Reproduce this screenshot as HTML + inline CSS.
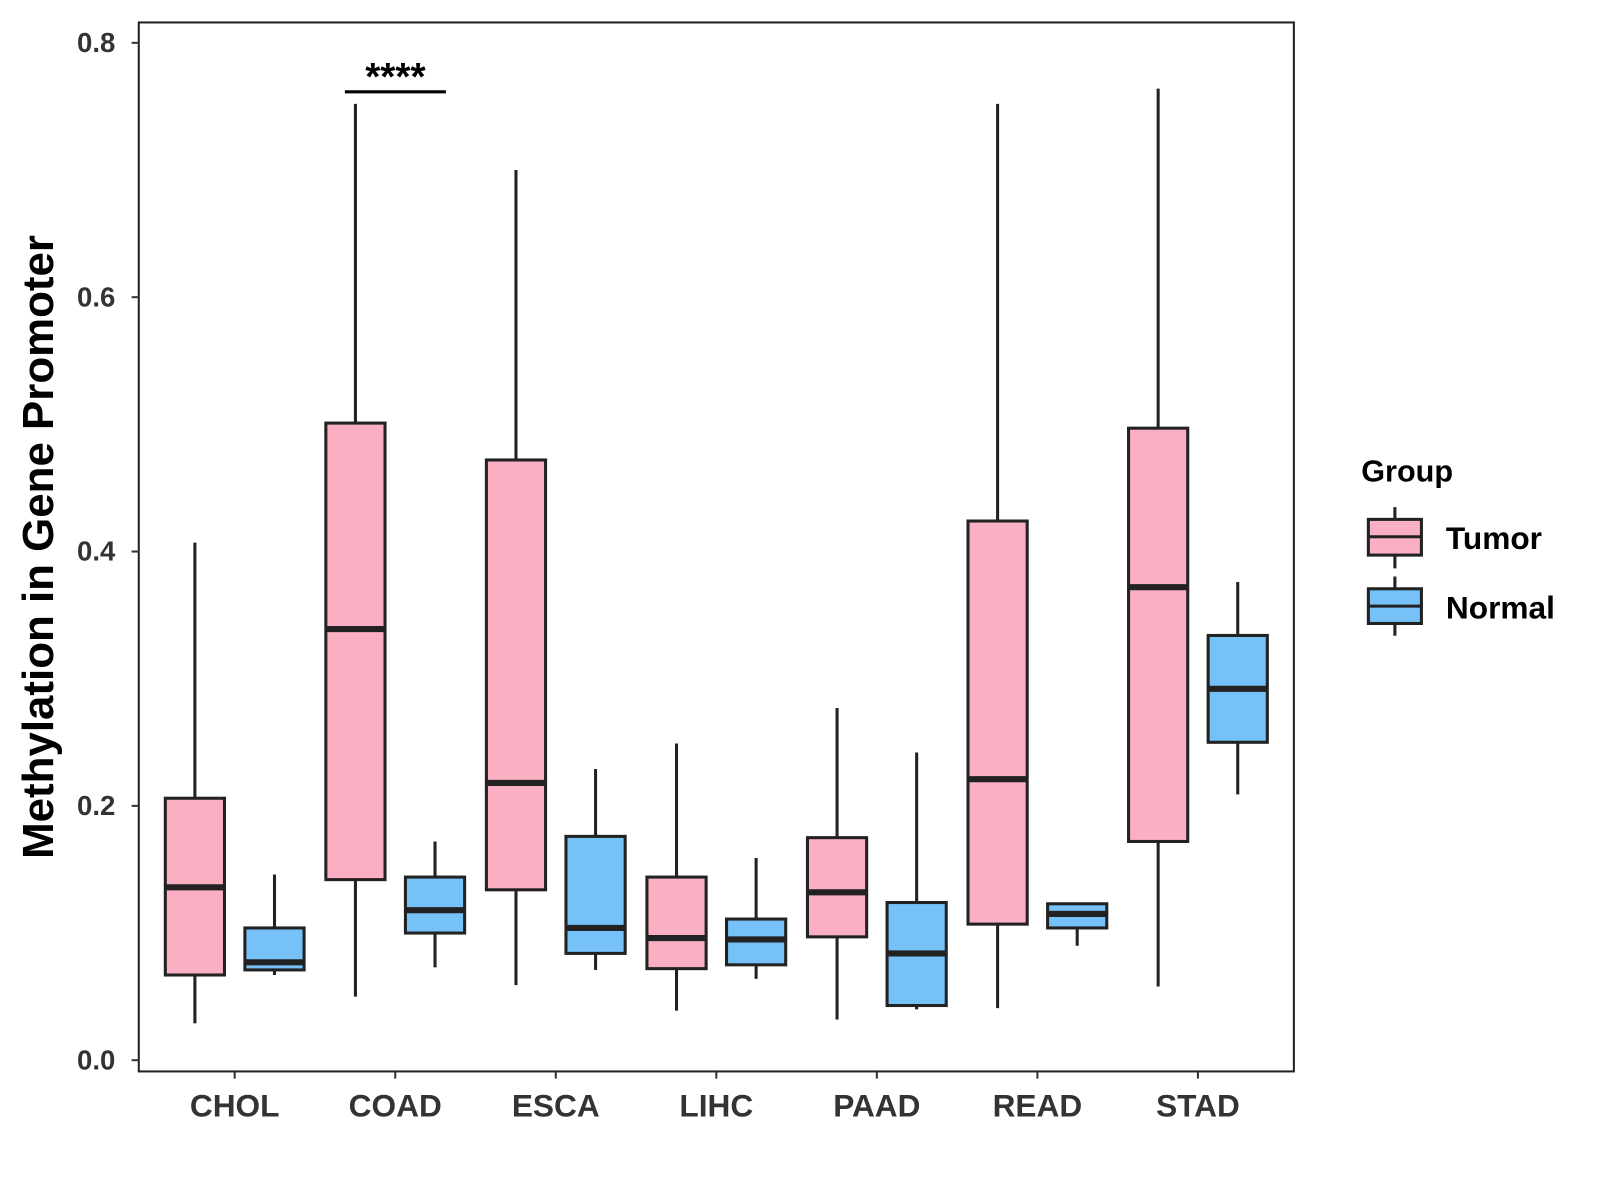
<!DOCTYPE html>
<html><head><meta charset="utf-8"><style>
html,body{margin:0;padding:0;background:#fff;}
svg{display:block;font-family:"Liberation Sans",Arial,sans-serif;}
</style></head><body>
<svg id="chart" width="1600" height="1200" viewBox="0 0 1568 1176">
<rect x="136" y="22" width="1132" height="1028" fill="#fff" stroke="#222" stroke-width="2"/>
<g id="yaxis"></g>
<g id="xaxis"></g>
<g id="boxes"></g>
<text x="52" y="536" transform="rotate(-90 52 536)" text-anchor="middle" font-size="43" font-weight="bold" fill="#000">Methylation in Gene Promoter</text>
<line x1="338" y1="90" x2="437" y2="90" stroke="#000" stroke-width="3"/>
<text x="387.5" y="88" text-anchor="middle" font-size="38" font-weight="bold">****</text>
<g>
<text x="1334" y="472" font-size="30" font-weight="bold">Group</text>
<g>
<line x1="1367" y1="497" x2="1367" y2="557" stroke="#222" stroke-width="3"/>
<rect x="1341" y="509" width="52" height="35" fill="#FBAFC2" stroke="#222" stroke-width="3"/>
<line x1="1341" y1="526" x2="1393" y2="526" stroke="#222" stroke-width="3"/>
<text x="1417" y="538" font-size="31" font-weight="bold">Tumor</text></g>
<g>
<line x1="1367" y1="565" x2="1367" y2="623" stroke="#222" stroke-width="3"/>
<rect x="1341" y="577" width="52" height="34" fill="#75C1F8" stroke="#222" stroke-width="3"/>
<line x1="1341" y1="594" x2="1393" y2="594" stroke="#222" stroke-width="3"/>
<text x="1417" y="606" font-size="31" font-weight="bold">Normal</text></g>
</g>
</svg>
<script>
const categories=["CHOL","COAD","ESCA","LIHC","PAAD","READ","STAD"];
const tumorStats=[[0.029,0.067,0.136,0.206,0.407],[0.050,0.142,0.339,0.501,0.752],[0.059,0.134,0.218,0.472,0.700],[0.039,0.072,0.096,0.144,0.249],[0.032,0.097,0.132,0.175,0.277],[0.041,0.107,0.221,0.424,0.752],[0.058,0.172,0.372,0.497,0.764]];
const normalStats=[[0.067,0.071,0.077,0.104,0.146],[0.073,0.100,0.118,0.144,0.172],[0.071,0.084,0.104,0.176,0.229],[0.064,0.075,0.095,0.111,0.159],[0.040,0.043,0.084,0.124,0.242],[0.090,0.104,0.115,0.123,0.123],[0.209,0.250,0.292,0.334,0.376]];
const yTicks=[0,0.2,0.4,0.6,0.8];
const yTickLabels=["0.0","0.2","0.4","0.6","0.8"];
const NS="http://www.w3.org/2000/svg";
function y(v){return 1039-v*1246.25;}
function xc(i){return 230+i*157.33;}
function mk(tag,attrs,parent){const e=document.createElementNS(NS,tag);for(const k in attrs)e.setAttribute(k,attrs[k]);parent.appendChild(e);return e;}
const ya=document.getElementById('yaxis'),xa=document.getElementById('xaxis'),bg=document.getElementById('boxes');
yTicks.forEach((t,i)=>{
 const l=mk('line',{x1:129,x2:136,y1:y(t),y2:y(t),stroke:'#333','stroke-width':2},ya);
 
 
 const tx=mk('text',{x:113,y:y(t)+9,'text-anchor':'end','font-size':27,'font-weight':'bold',fill:'#333'},ya);
 tx.textContent=yTickLabels[i];
 
 
});
categories.forEach((c,i)=>{
 const l=mk('line',{x1:xc(i),x2:xc(i),y1:1050,y2:1057,stroke:'#333','stroke-width':2},xa);
 
 
 const tx=mk('text',{x:xc(i),y:1094,'text-anchor':'middle','font-size':31,'font-weight':'bold',fill:'#333'},xa);
 tx.textContent=c;
 
 
});
function drawBox(cx,s,fill,name){
 const g=mk('g',{},bg);
 
 
 mk('line',{x1:cx,x2:cx,y1:y(s[4]),y2:y(s[3]),stroke:'#222','stroke-width':3},g);
 mk('line',{x1:cx,x2:cx,y1:y(s[1]),y2:y(s[0]),stroke:'#222','stroke-width':3},g);
 mk('rect',{x:cx-29,y:y(s[3]),width:58,height:Math.max(y(s[1])-y(s[3]),0.5),fill:fill,stroke:'#222','stroke-width':3},g);
 mk('line',{x1:cx-29,x2:cx+29,y1:y(s[2]),y2:y(s[2]),stroke:'#222','stroke-width':6},g);
}
categories.forEach((c,i)=>{
 drawBox(xc(i)-39,tumorStats[i],'#FBAFC2','box-tumor-'+c.toLowerCase());
 drawBox(xc(i)+39,normalStats[i],'#75C1F8','box-normal-'+c.toLowerCase());
});
</script>
</body></html>
